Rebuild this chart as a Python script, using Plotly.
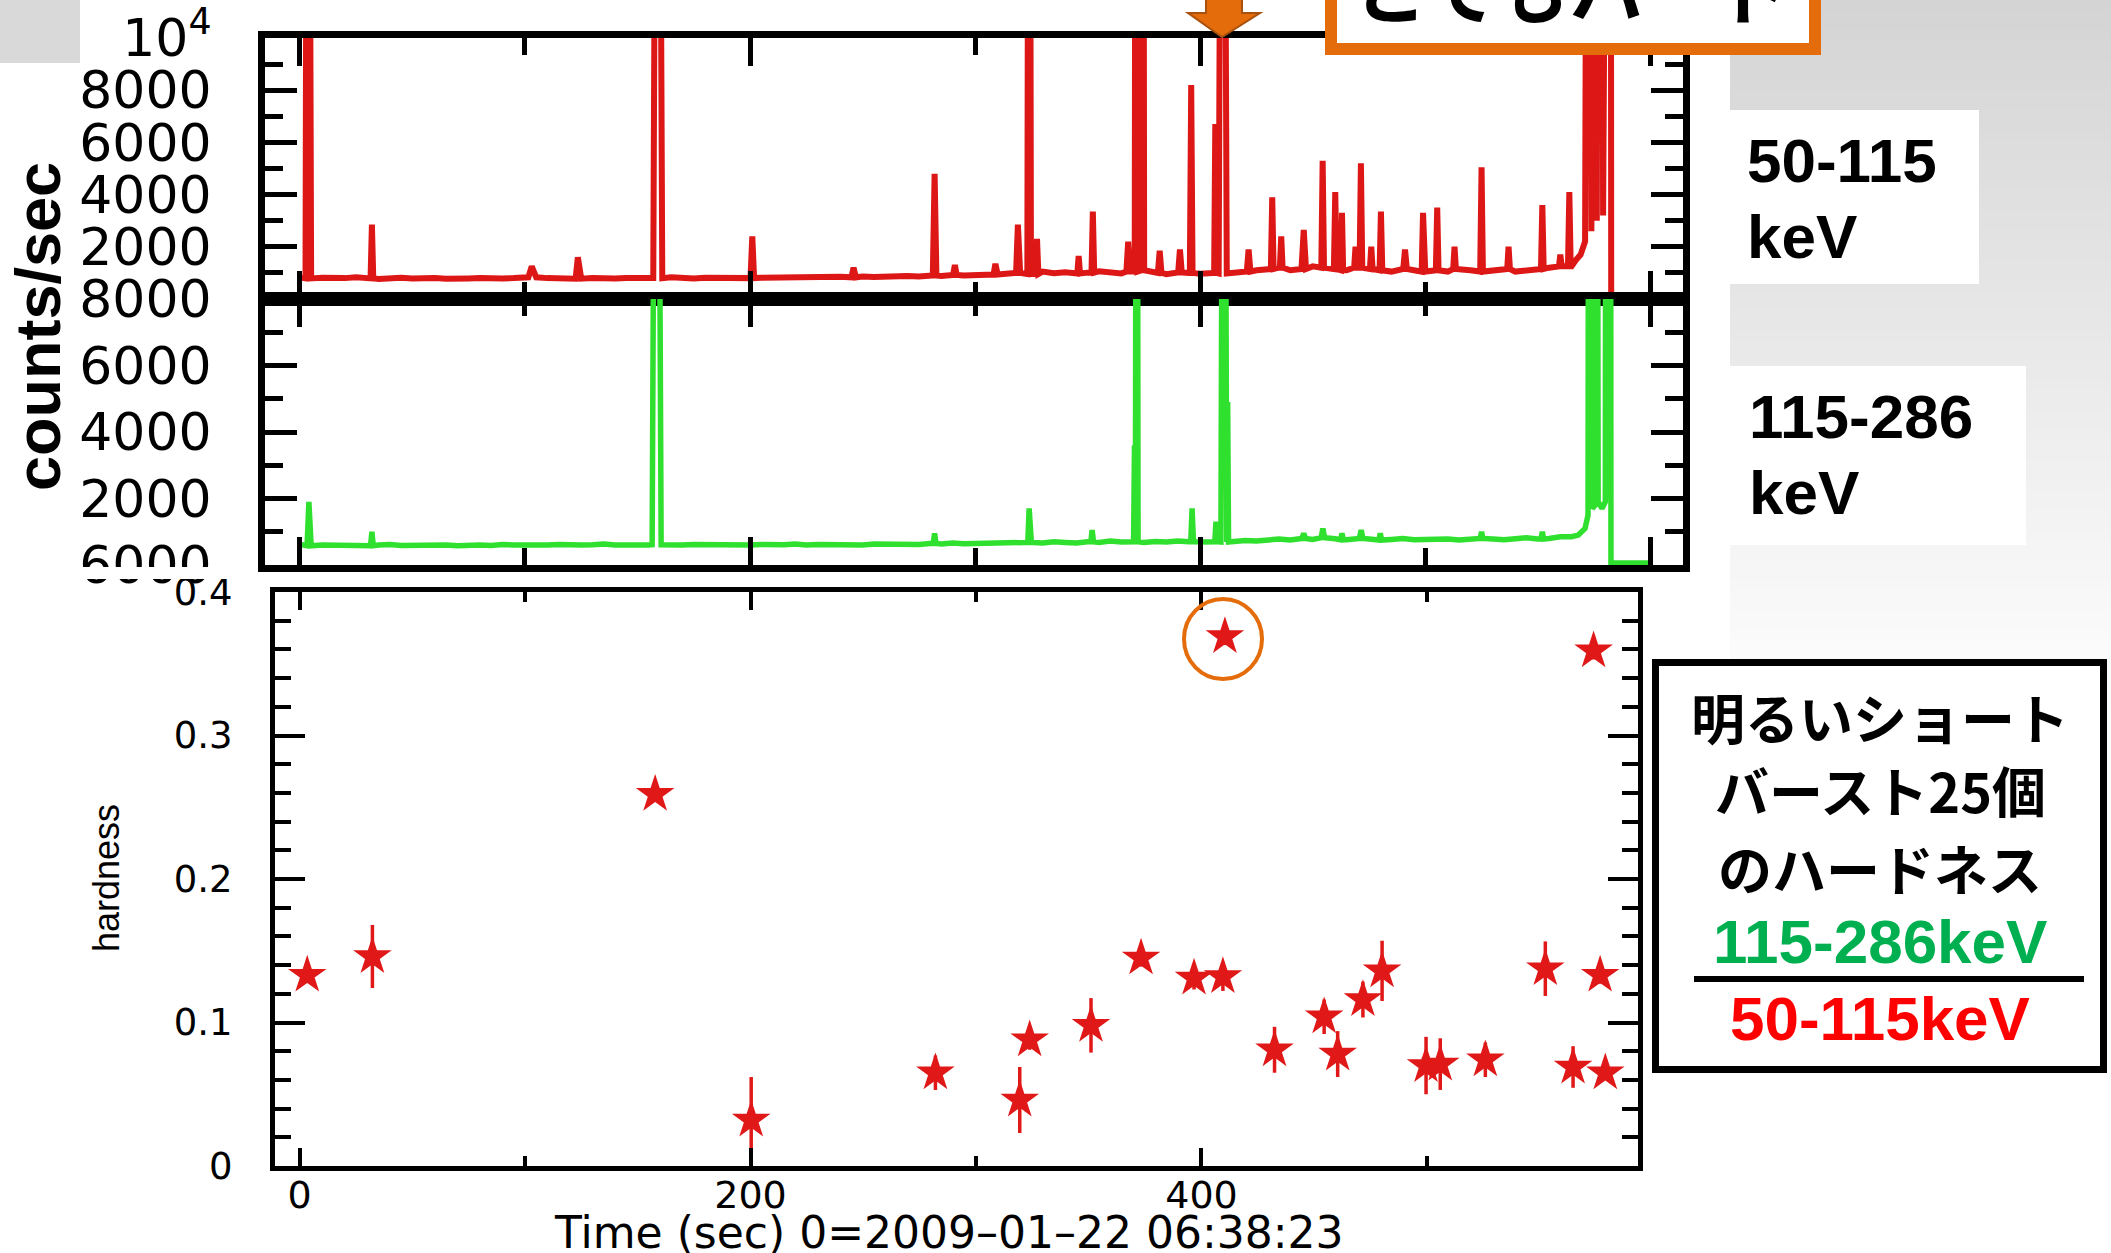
import plotly.graph_objects as go

W, H = 2111, 1253


def px(x):
    return x / W


def py(y):
    return 1 - y / H


# ---------------- data ----------------
# light-curve baseline samples (every 5 s, t = 0..560)
base_t = list(range(0, 561, 5))
red_base = [820, 790, 810, 780, 800, 830, 790, 770, 800, 810, 790, 820, 800, 780, 810, 790, 800, 820, 790, 800, 810,
            830, 800, 790, 810, 780, 800, 820, 790, 800, 810, 790, 800, 830, 800, 790, 810, 800, 790, 820, 800,
            810, 820, 800, 830, 810, 840, 820, 850, 830, 860, 840, 870, 850, 880, 860, 900, 880, 920, 900, 930,
            950, 940, 980, 1000, 960, 1050, 990, 1020, 980, 1010, 1060, 1000, 980, 1050, 1100, 1000, 950, 1020, 1000, 970,
            1000, 980, 1000, 1050, 1100, 1150, 1200, 1100, 1150, 1250, 1200, 1150, 1100, 1200, 1150, 1100, 1050, 1150, 1100, 1050,
            1100, 1050, 1150, 1100, 1050, 1100, 1150, 1050, 1100, 1150, 1200, 1250]
green_base = [620, 580, 600, 590, 610, 600, 580, 600, 620, 590, 600, 610, 590, 600, 580, 610, 600, 590, 620, 600, 590,
              610, 600, 620, 590, 600, 610, 630, 600, 590, 620, 600, 610, 590, 600, 620, 610, 600, 590, 610, 600,
              620, 600, 610, 630, 600, 620, 610, 640, 620, 600, 630, 620, 610, 640, 620, 650, 630, 660, 640, 650,
              660, 640, 670, 650, 680, 660, 700, 680, 660, 700, 680, 720, 690, 700, 680, 710, 690, 720, 700, 690,
              700, 690, 710, 740, 720, 760, 780, 750, 800, 770, 820, 790, 760, 800, 780, 750, 770, 800, 760, 780,
              760, 780, 750, 770, 800, 780, 760, 790, 820, 780, 800, 850]

# short bursts (time, peak counts/s, half-duration s); peaks above the axis are off scale
red_spike_t = [3.5, 32, 103, 123.5, 159, 201, 246, 282, 291, 309, 319, 324, 327.5, 346, 352.3, 368, 371.5, 374.5,
               382, 391, 396, 406.7, 410, 421.5, 432, 436, 446, 454.4, 460, 463, 469, 471.4, 476, 480.3, 491, 499,
               505.3, 513, 525, 537, 552, 560, 564]
red_spike_v = [40000, 2850, 1250, 1600, 40000, 2400, 1200, 4800, 1300, 1350, 2850, 40000, 2300, 1650, 3350, 2200,
               40000, 40000, 1850, 1900, 8200, 6700, 40000, 1900, 3900, 2400, 2650, 5300, 4100, 3300, 2000, 5200,
               2000, 3350, 1900, 3300, 3500, 2000, 5050, 2000, 3600, 1700, 4100]
red_spike_w = [1.0, 0.6, 1.5, 1.0, 2.0, 0.8, 1.0, 0.8, 0.8, 0.8, 0.8, 0.8, 0.6, 0.6, 0.6, 0.8, 0.6, 0.6, 0.8, 0.8,
               0.6, 0.5, 1.8, 0.8, 0.6, 0.6, 1.0, 0.6, 0.6, 0.5, 0.6, 0.6, 0.6, 0.6, 0.8, 0.6, 0.6, 0.6, 0.6, 0.6,
               0.6, 0.6, 0.6]
green_spike_t = [4, 32, 158.5, 282, 324, 352, 370.8, 371.8, 396.4, 407, 410.5, 412.2, 446, 454.5, 463, 471.5, 480,
                 525, 552]
green_spike_v = [1900, 1000, 30000, 950, 1700, 1050, 3600, 30000, 1700, 1300, 30000, 4900, 950, 1100, 950, 1050,
                 950, 1000, 1000]
green_spike_w = [0.8, 0.6, 2.0, 0.6, 0.6, 0.6, 0.4, 0.6, 0.6, 0.5, 1.3, 0.4, 0.8, 0.8, 0.6, 0.8, 0.6, 0.6, 0.6]

# final giant-burst episode and data drop-out
red_tail_t = [565, 567, 569, 571, 572.3, 573.2, 573.8, 574.5, 575.5, 576.2, 577, 578.2, 579, 579.8, 581.5, 582.3,
              582.6, 599.5]
red_tail_v = [1250, 1500, 1700, 2200, 40000, 40000, 2600, 40000, 40000, 3000, 40000, 40000, 3200, 40000, 40000,
              40000, 150, 150]
green_tail_t = [565, 568, 571, 572.3, 572.8, 573.4, 574.2, 575.5, 576.2, 576.8, 578.5, 580, 580.3, 581, 581.8,
                582.2, 582.5, 599.5]
green_tail_v = [850, 900, 1100, 1500, 30000, 30000, 1700, 1800, 30000, 1900, 1700, 1900, 30000, 2000, 2500,
                30000, 60, 60]

# hardness ratio of 25 bright short bursts
hard_t = [3.4, 32.3, 157.7, 200.3, 282, 319.4, 323.8, 351, 373.2, 396.7, 409.5, 410.4, 432.4, 454.4, 460.4,
          471.6, 480.1, 499.6, 505.9, 525.9, 552.5, 564.8, 573.9, 576.8, 579.1]
hard_v = [0.133, 0.146, 0.259, 0.032, 0.065, 0.046, 0.088, 0.098, 0.145, 0.131, 0.132, 0.369, 0.081, 0.104,
          0.078, 0.116, 0.136, 0.070, 0.071, 0.074, 0.1375, 0.069, 0.359, 0.133, 0.065]
hard_e = [0.005, 0.022, 0.005, 0.03, 0.012, 0.023, 0.007, 0.019, 0.006, 0.008, 0.01, 0.006, 0.016, 0.012,
          0.016, 0.0125, 0.021, 0.02, 0.018, 0.012, 0.019, 0.0145, 0.006, 0.006, 0.005]

red_ticks = [2000, 4000, 6000, 8000, 10000]
red_ticktext = ["2000", "4000", "6000", "8000", "10<sup>4</sup>"]
green_ticks = [0, 2000, 4000, 6000, 8000]
green_ticktext = ["6000", "2000", "4000", "6000", "8000"]


def build(bt, bv, st, sv, sw, tt, tv):
    pts = [(t, v) for t, v in zip(bt, bv)
           if not any(abs(t - s) <= w for s, w in zip(st, sw))]
    for s, v, w in zip(st, sv, sw):
        i = min(range(len(bt)), key=lambda k: abs(bt[k] - s))
        b = bv[i]
        pts += [(s - w, b), (s, v), (s + w, b)]
    pts.sort()
    pts += list(zip(tt, tv))
    return [p[0] for p in pts], [p[1] for p in pts]


rx, ry = build(base_t, red_base, red_spike_t, red_spike_v, red_spike_w, red_tail_t, red_tail_v)
gx, gy = build(base_t, green_base, green_spike_t, green_spike_v, green_spike_w, green_tail_t, green_tail_v)

RED = "#dd1616"
GREEN = "#2fe02f"
ORANGE = "#E46C0A"

fig = go.Figure()
fig.add_trace(go.Scatter(x=rx, y=ry, mode="lines", line=dict(color=RED, width=6),
                         xaxis="x", yaxis="y", showlegend=False, hoverinfo="skip"))
fig.add_trace(go.Scatter(x=gx, y=gy, mode="lines", line=dict(color=GREEN, width=5.5),
                         xaxis="x2", yaxis="y2", showlegend=False, hoverinfo="skip"))
fig.add_trace(go.Scatter(x=hard_t, y=hard_v, mode="markers",
                         marker=dict(symbol="star", size=29, color="#e01818", line=dict(width=0)),
                         error_y=dict(type="data", array=hard_e, visible=True, color="#e01818",
                                      thickness=3.5, width=0),
                         xaxis="x3", yaxis="y3", showlegend=False, hoverinfo="skip"))

lc_x = dict(range=[-15.5, 614.5], showticklabels=False, ticks="inside", tick0=0, dtick=200, ticklen=28,
            tickwidth=5, tickcolor="black", automargin=False,
            minor=dict(ticks="inside", tick0=0, dtick=100, ticklen=17, tickwidth=5, tickcolor="black"),
            showline=True, linewidth=7, linecolor="black", mirror="allticks", showgrid=False, zeroline=False)
lc_y_common = dict(ticks="inside", ticklen=32, tickwidth=5, tickcolor="black", automargin=False,
                   showline=True, linewidth=7, linecolor="black", mirror="allticks", showgrid=False,
                   zeroline=False, tickfont=dict(family="DejaVu Sans", size=52, color="black"),
                   ticklabelstandoff=36)

fig.update_layout(
    width=W, height=H, autosize=False, margin=dict(l=0, r=0, t=0, b=0, pad=0),
    paper_bgcolor="white", plot_bgcolor="white",
    xaxis=dict(domain=[px(265), px(1683)], anchor="y", **lc_x),
    yaxis=dict(domain=[py(299), py(38)], anchor="x", range=[0, 10000], tickmode="array",
               tickvals=red_ticks, ticktext=red_ticktext,
               minor=dict(ticks="inside", tickmode="linear", tick0=0, dtick=1000, ticklen=18, tickwidth=5,
                          tickcolor="black"),
               **lc_y_common),
    xaxis2=dict(domain=[px(265), px(1683)], anchor="y2", **lc_x),
    yaxis2=dict(domain=[py(565), py(299)], anchor="x2", range=[0, 8000], tickmode="array",
                tickvals=green_ticks, ticktext=green_ticktext,
                minor=dict(ticks="inside", tickmode="linear", tick0=0, dtick=1000, ticklen=18, tickwidth=5,
                           tickcolor="black"),
                **lc_y_common),
    xaxis3=dict(domain=[px(275), px(1638)], anchor="y3", range=[-10.9, 593.6], tick0=0, dtick=200,
                ticks="inside", ticklen=18, tickwidth=4, tickcolor="black", automargin=False,
                minor=dict(ticks="inside", tick0=0, dtick=100, ticklen=10, tickwidth=4, tickcolor="black"),
                showline=True, linewidth=5, linecolor="black", mirror="allticks", showgrid=False, zeroline=False,
                tickfont=dict(family="DejaVu Sans", size=38, color="black"), ticklabelstandoff=-9),
    yaxis3=dict(domain=[py(1166), py(592)], anchor="x3", range=[0, 0.4], tick0=0, dtick=0.1,
                ticks="inside", ticklen=30, tickwidth=4, tickcolor="black", automargin=False,
                minor=dict(ticks="inside", tick0=0, dtick=0.02, ticklen=16, tickwidth=4, tickcolor="black"),
                showline=True, linewidth=5, linecolor="black", mirror="allticks", showgrid=False, zeroline=False,
                tickfont=dict(family="DejaVu Sans", size=37, color="black"), ticklabelstandoff=30),
)

shapes = []
# slide background pieces
shapes.append(dict(type="rect", xref="paper", yref="paper", x0=px(0), x1=px(80), y0=py(63), y1=py(0),
                   fillcolor="#d9d9d9", line=dict(width=0), layer="below"))
band = 10
for i in range(72):
    y0, y1 = i * band, (i + 1) * band
    g = int(round(212 + 43 * min(1.0, (y0 + band / 2) / 720)))
    col = "#%02x%02x%02x" % (g, g, g)
    shapes.append(dict(type="rect", xref="paper", yref="paper", x0=px(1730), x1=px(W), y0=py(y1), y1=py(y0),
                       fillcolor=col, line=dict(width=0), layer="below"))
shapes.append(dict(type="rect", xref="paper", yref="paper", x0=px(1730), x1=px(1979), y0=py(284), y1=py(110),
                   fillcolor="white", line=dict(width=0), layer="below"))
shapes.append(dict(type="rect", xref="paper", yref="paper", x0=px(1730), x1=px(2026), y0=py(545), y1=py(366),
                   fillcolor="white", line=dict(width=0), layer="below"))
# legend box
shapes.append(dict(type="rect", xref="paper", yref="paper", x0=px(1655.5), x1=px(2103.5), y0=py(1069.5),
                   y1=py(662.5), fillcolor="white", line=dict(color="black", width=7), layer="below"))
shapes.append(dict(type="line", xref="paper", yref="paper", x0=px(1694), x1=px(2084), y0=py(979), y1=py(979),
                   line=dict(color="black", width=6), layer="above"))
# hide lower half of the clipped tick label
shapes.append(dict(type="rect", xref="paper", yref="paper", x0=px(60), x1=px(250), y0=py(579), y1=py(567),
                   fillcolor="white", line=dict(width=0), layer="above"))
# orange callout box (top cut by slide edge)
shapes.append(dict(type="rect", xref="paper", yref="paper", x0=px(1331), x1=px(1815), y0=py(49), y1=py(-40),
                   fillcolor="white", line=dict(color=ORANGE, width=12), layer="above"))
# orange arrow
ax = [(1206, -5), (1242, -5), (1242, 13), (1260, 13), (1222, 37), (1188, 13), (1206, 13)]
path = "M " + " L ".join("%.6f,%.6f" % (px(a), py(b)) for a, b in ax) + " Z"
shapes.append(dict(type="path", xref="paper", yref="paper", path=path, fillcolor=ORANGE,
                   line=dict(color="#a9500c", width=2), layer="above"))
# orange circle around the hardest burst
shapes.append(dict(type="circle", xref="paper", yref="paper", x0=px(1184), x1=px(1262), y0=py(679), y1=py(599),
                   line=dict(color=ORANGE, width=4), layer="above"))

ann = []


def text(x, y, s, size, family, color="black", xanchor="center", angle=0):
    ann.append(dict(x=px(x), y=py(y), xref="paper", yref="paper", text=s, showarrow=False, xanchor=xanchor,
                    yanchor="middle", textangle=angle, font=dict(family=family, size=size, color=color)))


SANS = "Liberation Sans, Arial, sans-serif"
CJK = "Noto Sans CJK JP, sans-serif"
text(1572, -14, "<b>とてもハード</b>", 74, CJK)
text(1745, 160, "<b>50-115</b>", 62, SANS, xanchor="left")
text(1745, 236, "<b>keV</b>", 62, SANS, xanchor="left")
text(1747, 416, "<b>115-286</b>", 62, SANS, xanchor="left")
text(1747, 493, "<b>keV</b>", 62, SANS, xanchor="left")
text(1880, 716, "<b>明るいショート</b>", 54, CJK)
text(1880, 789, "<b>バースト25個</b>", 54, CJK)
text(1880, 867, "<b>のハードネス</b>", 54, CJK)
text(1880, 941, "<b>115-286keV</b>", 62, SANS, color="#00b050")
text(1880, 1018, "<b>50-115keV</b>", 62, SANS, color="#ff0000")
text(38, 327, "<b>counts/sec</b>", 63, SANS, angle=-90)
text(106, 878, "hardness", 36, SANS, angle=-90)
text(949, 1232, "Time (sec) 0=2009–01–22 06:38:23", 44, "DejaVu Sans")

fig.update_layout(shapes=shapes, annotations=ann)
fig.write_html("out.html")
